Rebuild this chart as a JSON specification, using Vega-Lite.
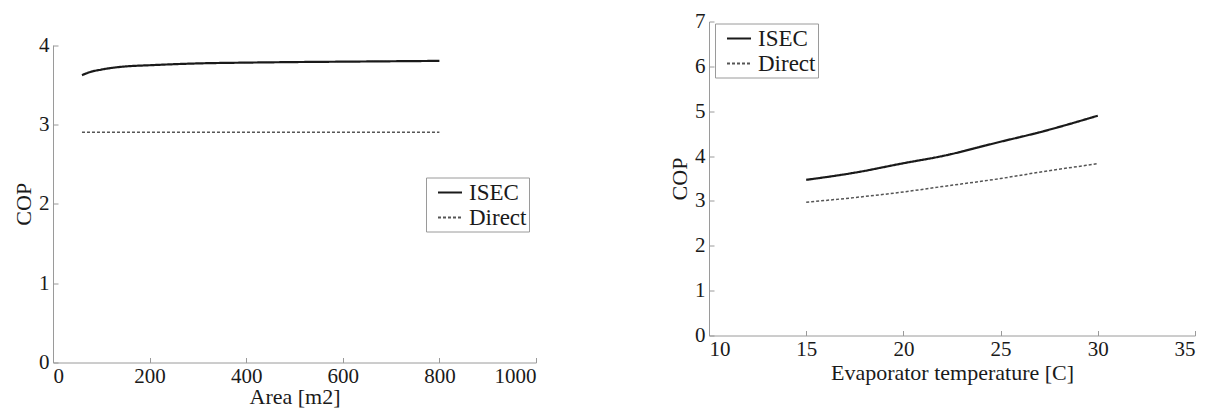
{
  "$schema": "https://vega.github.io/schema/vega-lite/v6.json",
  "background": "white",
  "padding": {"left": 12, "top": 10.5, "right": 0, "bottom": 0},
  "spacing": 131,
  "config": {
    "view": {"stroke": null},
    "axis": {
      "grid": false,
      "domainColor": "#9a9a9a",
      "tickColor": "#9a9a9a",
      "tickSize": -5,
      "labelFont": "Liberation Serif",
      "labelFontSize": 21,
      "labelColor": "#1a1a1a",
      "titleFont": "Liberation Serif",
      "titleFontSize": 22,
      "titleFontWeight": "normal",
      "titleColor": "#1a1a1a",
      "format": "d"
    },
    "legend": {
      "labelFont": "Liberation Serif",
      "labelFontSize": 23,
      "labelColor": "#1a1a1a",
      "symbolType": "stroke",
      "symbolSize": 576,
      "symbolStrokeWidth": 2,
      "symbolOffset": 9,
      "strokeColor": "#9a9a9a",
      "fillColor": "white",
      "padding": 2,
      "rowPadding": 0,
      "labelOffset": 6
    }
  },
  "resolve": {
    "scale": {"color": "independent", "strokeDash": "independent"},
    "legend": {"color": "independent", "strokeDash": "independent"}
  },
  "hconcat": [
    {
      "width": 483,
      "height": 341,
      "data": {"values": [
        {"area": 60, "cop": 3.62, "case": "ISEC"},
        {"area": 70, "cop": 3.645, "case": "ISEC"},
        {"area": 80, "cop": 3.665, "case": "ISEC"},
        {"area": 100, "cop": 3.69, "case": "ISEC"},
        {"area": 120, "cop": 3.71, "case": "ISEC"},
        {"area": 150, "cop": 3.73, "case": "ISEC"},
        {"area": 200, "cop": 3.745, "case": "ISEC"},
        {"area": 250, "cop": 3.758, "case": "ISEC"},
        {"area": 300, "cop": 3.768, "case": "ISEC"},
        {"area": 400, "cop": 3.778, "case": "ISEC"},
        {"area": 500, "cop": 3.785, "case": "ISEC"},
        {"area": 600, "cop": 3.79, "case": "ISEC"},
        {"area": 700, "cop": 3.795, "case": "ISEC"},
        {"area": 800, "cop": 3.8, "case": "ISEC"},
        {"area": 60, "cop": 2.9, "case": "Direct"},
        {"area": 800, "cop": 2.9, "case": "Direct"}
      ]},
      "mark": {"type": "line", "interpolate": "monotone"},
      "encoding": {
        "x": {"field": "area", "type": "quantitative", "title": "Area [m2]",
              "scale": {"domain": [0, 1000], "nice": false},
              "axis": {"values": [0, 200, 400, 600, 800, 1000], "labelPadding": 8, "titlePadding": 0}},
        "y": {"field": "cop", "type": "quantitative", "title": "COP",
              "scale": {"domain": [0, 4], "nice": false, "range": [341, 23.5]},
              "axis": {"values": [0, 1, 2, 3, 4], "labelPadding": 9, "titlePadding": 3}},
        "color": {"field": "case", "type": "nominal",
                  "scale": {"domain": ["ISEC", "Direct"], "range": ["#1a1a1a", "#555555"]},
                  "legend": {"title": null, "orient": "none", "legendX": 373, "legendY": 156}},
        "strokeDash": {"field": "case", "type": "nominal",
                  "scale": {"domain": ["ISEC", "Direct"], "range": [[1, 0], [3, 2]]},
                  "legend": {"title": null, "orient": "none", "legendX": 373, "legendY": 156}},
        "strokeWidth": {"field": "case", "type": "nominal",
                  "scale": {"domain": ["ISEC", "Direct"], "range": [2.2, 1.5]},
                  "legend": null}
      }
    },
    {
      "width": 486,
      "height": 314,
      "data": {"values": [
        {"t": 15, "cop": 3.47, "case": "ISEC"},
        {"t": 17.5, "cop": 3.63, "case": "ISEC"},
        {"t": 20, "cop": 3.84, "case": "ISEC"},
        {"t": 22, "cop": 4.0, "case": "ISEC"},
        {"t": 25, "cop": 4.32, "case": "ISEC"},
        {"t": 27, "cop": 4.53, "case": "ISEC"},
        {"t": 30, "cop": 4.9, "case": "ISEC"},
        {"t": 15, "cop": 2.97, "case": "Direct"},
        {"t": 20, "cop": 3.2, "case": "Direct"},
        {"t": 22, "cop": 3.32, "case": "Direct"},
        {"t": 25, "cop": 3.5, "case": "Direct"},
        {"t": 27, "cop": 3.64, "case": "Direct"},
        {"t": 30, "cop": 3.83, "case": "Direct"}
      ]},
      "mark": {"type": "line", "interpolate": "monotone"},
      "encoding": {
        "x": {"field": "t", "type": "quantitative", "title": "Evaporator temperature [C]",
              "scale": {"domain": [10, 35], "nice": false},
              "axis": {"values": [10, 15, 20, 25, 30, 35], "labelPadding": 8, "titlePadding": 3}},
        "y": {"field": "cop", "type": "quantitative", "title": "COP",
              "scale": {"domain": [0, 7], "nice": false},
              "axis": {"values": [0, 1, 2, 3, 4, 5, 6, 7], "labelPadding": 9, "titlePadding": 3}},
        "color": {"field": "case", "type": "nominal",
                  "scale": {"domain": ["ISEC", "Direct"], "range": ["#1a1a1a", "#555555"]},
                  "legend": {"title": null, "orient": "none", "legendX": 6, "legendY": 2}},
        "strokeDash": {"field": "case", "type": "nominal",
                  "scale": {"domain": ["ISEC", "Direct"], "range": [[1, 0], [3, 2]]},
                  "legend": {"title": null, "orient": "none", "legendX": 6, "legendY": 2}},
        "strokeWidth": {"field": "case", "type": "nominal",
                  "scale": {"domain": ["ISEC", "Direct"], "range": [2.2, 1.5]},
                  "legend": null}
      }
    }
  ]
}
